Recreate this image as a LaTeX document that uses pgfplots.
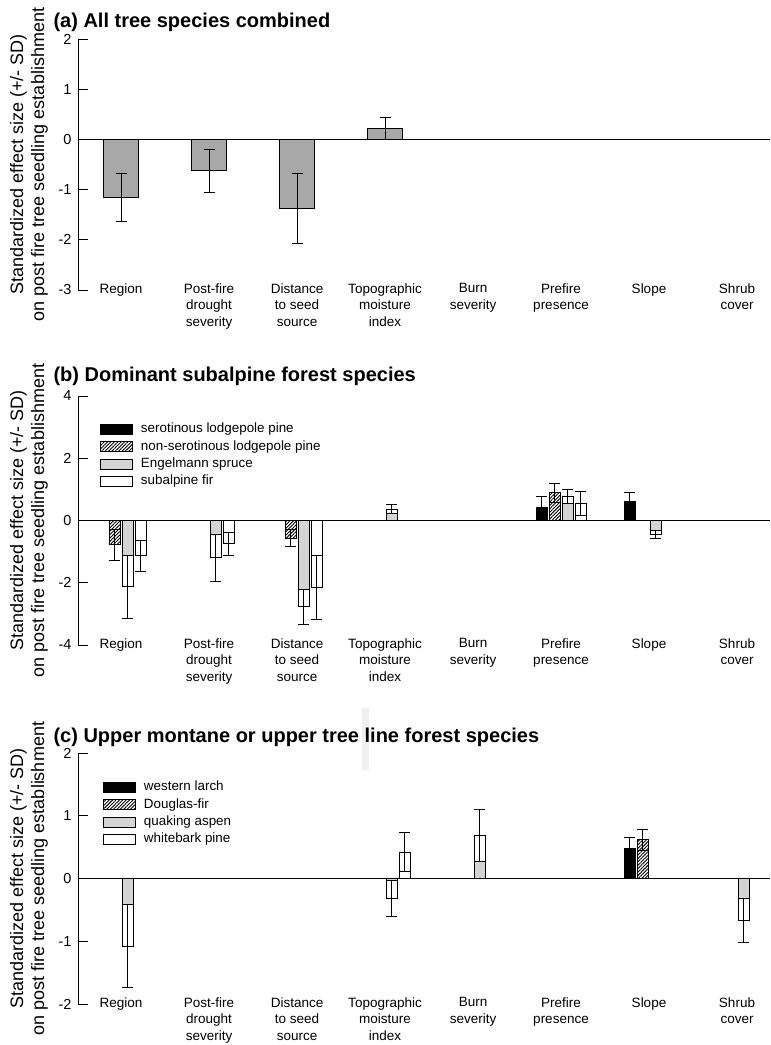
\documentclass[border=0pt]{standalone}
\usepackage{pgfplots}
\pgfplotsset{compat=1.18}
\usepackage{fontspec}
\setmainfont{Liberation Sans}
\usetikzlibrary{patterns.meta}

\definecolor{barA}{gray}{0.66}
\definecolor{barL}{gray}{0.83}

\pgfplotsset{
  panel/.style={
    scale only axis, width=692pt,
    xmin=-0.489, xmax=7.375,
    axis lines*=left,
    x axis line style={draw=none},
    xtick={0,...,7},
    xticklabels={Region,{Post-fire\\drought\\severity},{Distance\\to seed\\source},{Topographic\\moisture\\index},{Burn\\severity},{Prefire\\presence},Slope,{Shrub\\cover}},
    x tick style={draw=none},
    xticklabel style={align=center, font=\fontsize{13.5}{16.5}\selectfont, yshift=10pt},
    yticklabel style={font=\fontsize{14.5}{16}\selectfont, xshift=-3pt},
    y axis line style={line width=1pt},
    y tick style={line width=1pt, black},
    tick align=inside,
    major tick length=10pt,
    clip=false,
    every axis y label/.style={at={([xshift=-49pt]axis description cs:0,0.5)}, rotate=90, anchor=center, align=center, font=\fontsize{18}{21}\selectfont},
    ylabel={Standardized effect size (+/- SD)\\on post fire tree seedling establishment},
    legend image code/.code={\draw[#1, line width=0.8pt] (0pt,-5pt) rectangle (32pt,5pt);},
    legend style={draw=none, fill=none, inner sep=0pt, at={(axis description cs:0,1)}, anchor=north west,
      font=\fontsize{13.4}{16}\selectfont, cells={anchor=west}, column sep=8pt, row sep=4pt,
      nodes={inner sep=0pt, text height=10pt, text depth=3.3pt, font=\fontsize{13.4}{16}\selectfont}},
  },
  zero/.style={black, line width=1pt, forget plot, mark=none},
  bar/.style={ybar, bar width=11pt, draw=black, line width=0.8pt},
  err/.style={forget plot, draw=none, mark=none,
    error bars/y dir=both, error bars/y explicit, error bars/error mark=-,
    error bars/error mark options={rotate=90, mark size=5.5pt, line width=0.8pt, draw=black, solid},
    error bars/error bar style={line width=0.8pt, draw=black, solid}},
  s1/.style={x filter/.expression={x-0.2216}},
  s2/.style={x filter/.expression={x-0.0739}},
  s3/.style={x filter/.expression={x+0.0739}},
  s4/.style={x filter/.expression={x+0.2216}},
  hatch/.style={pattern={Lines[angle=45, distance=2.4pt, line width=0.9pt]}},
}

\begin{document}
\begin{tikzpicture}
\path[use as bounding box] (0,0) rectangle (771pt,-1045pt);
\fill[gray!12] (362pt,-708pt) rectangle (369pt,-770pt);

% ---------- panel (a)
\node[anchor=base west, font=\bfseries\fontsize{20}{24}\selectfont] at (50pt,-27pt) {(a) All tree species combined};
\begin{axis}[panel, at={(78pt,-290pt)}, anchor=south west, height=251pt,
  ymin=-3, ymax=2, ytick={-3,-2,-1,0,1,2}, yticklabels={-3,-2,-1,0,1,2}]
\addplot[zero] coordinates {(-0.489,0) (7.375,0)};
\addplot[bar, bar width=35pt, bar shift=0pt, fill=barA, forget plot] coordinates {
  (0,-1.16) (1,-0.62) (2,-1.38) (3,0.22)
};
\addplot[err] coordinates {
  (0,-1.16) +- (0,0.475)
  (1,-0.62) +- (0,0.43)
  (2,-1.38) +- (0,0.70)
  (3,0.22) +- (0,0.21)
};
\end{axis}

% ---------- panel (b)
\node[anchor=base west, font=\bfseries\fontsize{20}{24}\selectfont] at (50pt,-381pt) {(b) Dominant subalpine forest species};
\begin{axis}[panel, at={(78pt,-645pt)}, anchor=south west, height=249pt,
  ymin=-4, ymax=4, ytick={-4,-2,0,2,4}, yticklabels={-4,-2,0,2,4},
  legend style={xshift=22pt, yshift=-26.5pt}]
\addplot[zero] coordinates {(-0.489,0) (7.375,0)};
% serotinous lodgepole pine
\addplot[bar, bar shift=-19.5pt, fill=black] coordinates {(5,0.41) (6,0.62)};
\addlegendentry{serotinous lodgepole pine}
% non-serotinous lodgepole pine
\addplot[bar, bar shift=-6.5pt, fill=white, hatch] coordinates {(0,-0.77) (2,-0.56) (5,0.89)};
\addlegendentry{non-serotinous lodgepole pine}
% Engelmann spruce (full bar in white, inner part grey)
\addplot[bar, bar shift=6.5pt, fill=white, forget plot] coordinates {
  (0,-2.13) (1,-1.20) (2,-2.77) (3,0.37) (5,0.78) (6,-0.45)};
\addplot[bar, bar shift=6.5pt, fill=barL] coordinates {
  (0,-1.13) (1,-0.44) (2,-2.21) (3,0.22) (5,0.55) (6,-0.32)};
\addlegendentry{Engelmann spruce}
% subalpine fir
\addplot[bar, bar shift=19.5pt, fill=white] coordinates {(0,-1.13) (1,-0.75) (2,-2.15) (5,0.55)};
\addlegendentry{subalpine fir}
% error bars
\addplot[err, s1] coordinates {(5,0.41) +- (0,0.37) (6,0.62) +- (0,0.27)};
\addplot[err, s2] coordinates {(0,-0.77) +- (0,0.50) (2,-0.56) +- (0,0.26) (5,0.89) +- (0,0.30)};
\addplot[err, s3] coordinates {
  (0,-2.13) +- (0,1.00) (1,-1.20) +- (0,0.76) (2,-2.77) +- (0,0.56)
  (3,0.37) +- (0,0.15) (5,0.78) +- (0,0.23) (6,-0.45) +- (0,0.13)};
\addplot[err, s4] coordinates {
  (0,-1.13) +- (0,0.49) (1,-0.75) +- (0,0.36) (2,-2.15) +- (0,1.02) (5,0.55) +- (0,0.40)};
\end{axis}

% ---------- panel (c)
\node[anchor=base west, font=\bfseries\fontsize{20}{24}\selectfont] at (50pt,-742pt) {(c) Upper montane or upper tree line forest species};
\begin{axis}[panel, at={(78pt,-1004pt)}, anchor=south west, height=251pt,
  ymin=-2, ymax=2, ytick={-2,-1,0,1,2}, yticklabels={-2,-1,0,1,2},
  legend style={xshift=25pt, yshift=-27.5pt}]
\addplot[zero] coordinates {(-0.489,0) (7.375,0)};
\addplot[bar, bar shift=-19.5pt, fill=black] coordinates {(6,0.48)};
\addlegendentry{western larch}
\addplot[bar, bar shift=-6.5pt, fill=white, hatch] coordinates {(6,0.62)};
\addlegendentry{Douglas-fir}
\addplot[bar, bar shift=6.5pt, fill=white, forget plot] coordinates {
  (0,-1.08) (3,-0.32) (4,0.69) (7,-0.67)};
\addplot[bar, bar shift=6.5pt, fill=barL] coordinates {
  (0,-0.42) (3,-0.03) (4,0.28) (7,-0.32)};
\addlegendentry{quaking aspen}
\addplot[bar, bar shift=19.5pt, fill=white] coordinates {(3,0.42)};
\addlegendentry{whitebark pine}
% error bars
\addplot[err, s1] coordinates {(6,0.48) +- (0,0.18)};
\addplot[err, s2] coordinates {(6,0.62) +- (0,0.17)};
\addplot[err, s3] coordinates {
  (0,-1.08) +- (0,0.66) (3,-0.32) +- (0,0.29) (4,0.69) +- (0,0.41) (7,-0.67) +- (0,0.35)};
\addplot[err, s4] coordinates {(3,0.42) +- (0,0.31)};
\end{axis}
\end{tikzpicture}
\end{document}
